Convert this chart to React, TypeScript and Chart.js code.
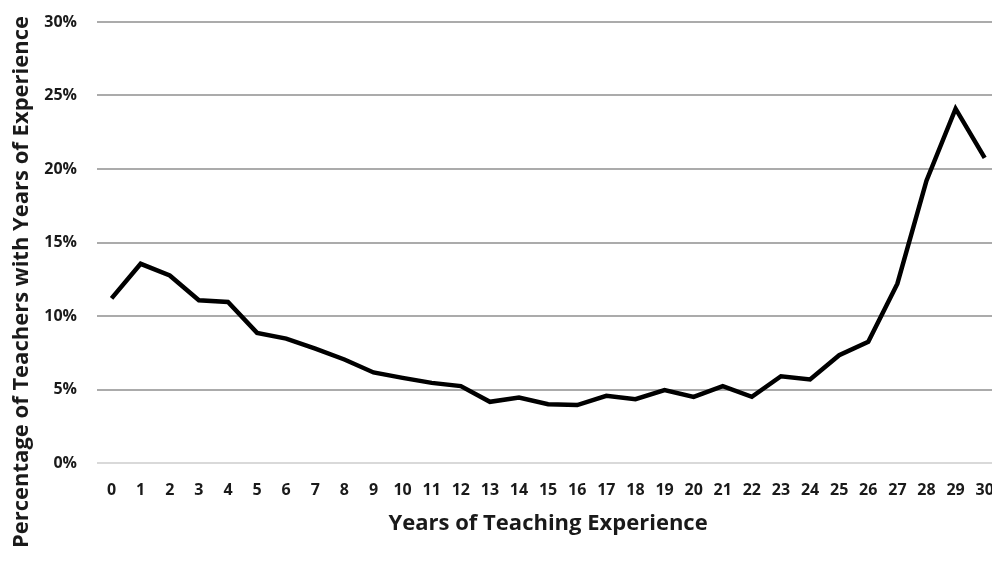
import React, { useEffect, useRef } from "react";
import { Chart, registerables } from "chart.js";

Chart.register(...registerables);

const years: string[] = Array.from({ length: 31 }, (_, i) => String(i));
const percentages: number[] = [
  11.2, 13.55, 12.76, 11.07, 10.95, 8.85, 8.46, 7.78, 7.04, 6.16, 5.79, 5.45,
  5.23, 4.16, 4.46, 4.0, 3.94, 4.57, 4.34, 4.96, 4.5, 5.23, 4.5, 5.9, 5.68,
  7.33, 8.24, 12.2, 19.2, 24.1, 20.75,
];
const yTicks: number[] = [0, 5, 10, 15, 20, 25, 30];
const xTitle = "Years of Teaching Experience";
const yTitle = "Percentage of Teachers with Years of Experience";

const FONT = "'Open Sans', 'DejaVu Sans', sans-serif";

const yTitlePlugin = {
  id: "yTitlePlugin",
  afterDraw(chart: any) {
    const { ctx, chartArea } = chart;
    ctx.save();
    ctx.font = `bold 22px ${FONT}`;
    ctx.fillStyle = "#1a1a1a";
    ctx.textAlign = "center";
    ctx.textBaseline = "middle";
    ctx.translate(22, chartArea.bottom - 181);
    ctx.rotate(-Math.PI / 2);
    ctx.fillText(yTitle, 0, 0);
    ctx.restore();
  },
};

export default function App() {
  const ref = useRef<HTMLCanvasElement | null>(null);

  useEffect(() => {
    if (!ref.current) return;
    const chart = new Chart(ref.current, {
      type: "line",
      data: {
        labels: years,
        datasets: [
          {
            data: percentages,
            borderColor: "#000000",
            borderWidth: 4.5,
            pointRadius: 0,
            tension: 0,
            fill: false,
          },
        ],
      },
      plugins: [yTitlePlugin],
      options: {
        responsive: false,
        animation: false,
        devicePixelRatio: 1,
        layout: { padding: { top: 0, right: 10, left: 0, bottom: 0 } },
        plugins: { legend: { display: false }, tooltip: { enabled: false } },
        scales: {
          x: {
            type: "category",
            offset: true,
            grid: { display: false, drawTicks: false },
            border: { display: false },
            ticks: {
              color: "#1a1a1a",
              font: { family: FONT, size: 16, weight: "bold" },
              padding: 18,
              maxRotation: 0,
              autoSkip: false,
            },
            title: {
              display: true,
              text: xTitle,
              color: "#1a1a1a",
              font: { family: FONT, size: 22, weight: "bold" },
              padding: { top: 0, bottom: 26 },
            },
            afterFit: (s: any) => {
              s.height = 100;
            },
          },
          y: {
            min: 0,
            max: 30,
            afterBuildTicks: (s: any) => {
              s.ticks = yTicks.map((v) => ({ value: v }));
            },
            grid: {
              drawTicks: false,
              lineWidth: 2,
              color: (ctx: any) =>
                ctx.tick && ctx.tick.value === 0 ? "#d9d9d9" : "#ababab",
            },
            border: { display: false },
            ticks: {
              color: "#1a1a1a",
              font: { family: FONT, size: 16, weight: "bold" },
              padding: 20,
              callback: (v: any) => `${v}%`,
            },
            afterFit: (s: any) => {
              s.width = 97;
              s.paddingTop = 22;
              s.paddingBottom = 0;
            },
          },
        },
      },
    });
    return () => chart.destroy();
  }, []);

  return (
    <div
      style={{
        position: "fixed",
        left: 0,
        top: 0,
        width: 992,
        height: 563,
        overflow: "hidden",
        background: "#ffffff",
      }}
    >
      <canvas ref={ref} width={1012} height={563} style={{ display: "block" }} />
    </div>
  );
}
